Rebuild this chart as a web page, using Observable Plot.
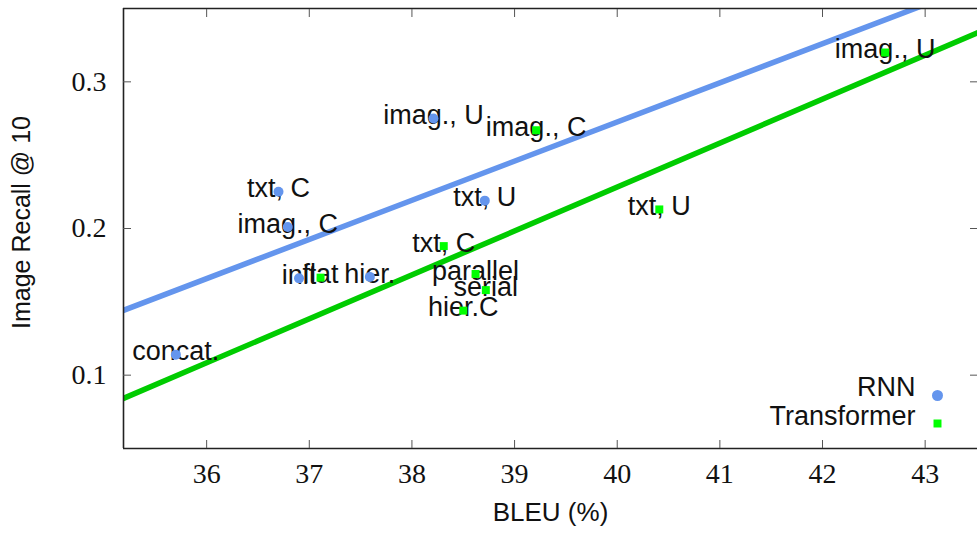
<!DOCTYPE html>
<html>
<head>
<meta charset="utf-8">
<script src="https://cdn.jsdelivr.net/npm/d3@7"></script>
<script src="https://cdn.jsdelivr.net/npm/@observablehq/plot@0.6"></script>
<style>
  html, body { margin: 0; padding: 0; background: #fff; }
</style>
</head>
<body>
<div id="chart"></div>
<script>
// ---- data ----
const rnnLabels = ["concat.", "txt, C", "imag., C", "init", "hier.", "imag., U", "txt, U"];
const rnnBleu   = [35.70, 36.70, 36.79, 36.90, 37.59, 38.21, 38.71];
const rnnRecall = [0.114, 0.225, 0.201, 0.166, 0.167, 0.275, 0.219];

const trfLabels = ["flat", "txt, C", "hier.C", "parallel", "serial", "imag., C", "txt, U", "imag., U"];
const trfBleu   = [37.11, 38.31, 38.50, 38.62, 38.72, 39.21, 40.41, 42.61];
const trfRecall = [0.1665, 0.188, 0.144, 0.169, 0.158, 0.267, 0.213, 0.320];

// fitted trend lines: recall = intercept + slope * bleu
const rnnFit = { intercept: -0.7950, slope: 0.02669 };
const trfFit = { intercept: -0.9701, slope: 0.02996 };

const seriesNames = ["RNN", "Transformer"];
const xTicks = [36, 37, 38, 39, 40, 41, 42, 43];
const yTicks = [0.1, 0.2, 0.3];
const xDomain = [35.19, 43.51];
const yDomain = [0.05, 0.35];
const xLabel = "BLEU (%)";
const yLabel = "Image Recall @ 10";

// ---- build tables ----
const rnnRows = rnnLabels.map((t, i) => ({ label: t, x: rnnBleu[i], y: rnnRecall[i] }));
const trfRows = trfLabels.map((t, i) => ({ label: t, x: trfBleu[i], y: trfRecall[i] }));
const fitRows = f => xDomain.map(x => ({ x, y: f.intercept + f.slope * x }));

const BLUE = "#6495ed";
const GREEN_LINE = "#00cc00";
const GREEN_PT = "#00ff00";
const SANS = "'Liberation Sans', Arial, sans-serif";
const SERIF = "'Liberation Serif', 'DejaVu Serif', serif";
const FRAME = "#222";
const TICK = "#555";

const chart = Plot.plot({
  width: 977,
  height: 536,
  marginLeft: 123,
  marginRight: 0,
  marginTop: 8,
  marginBottom: 88,
  style: { background: "#fff", overflow: "visible" },
  x: { domain: xDomain },
  y: { domain: yDomain },
  marks: [
    // trend lines
    Plot.line(fitRows(rnnFit), { x: "x", y: "y", stroke: BLUE, strokeWidth: 5.5, clip: true }),
    Plot.line(fitRows(trfFit), { x: "x", y: "y", stroke: GREEN_LINE, strokeWidth: 5.5, clip: true }),

    // point labels
    Plot.text(rnnRows, { x: "x", y: "y", text: "label", fontFamily: SANS, fontSize: 27, fill: "#111", dy: -3 }),
    Plot.text(trfRows, { x: "x", y: "y", text: "label", fontFamily: SANS, fontSize: 27, fill: "#111", dy: -3 }),

    // points
    Plot.dot(rnnRows, { x: "x", y: "y", r: 5, fill: BLUE, symbol: "circle" }),
    Plot.dot(trfRows, { x: "x", y: "y", r: 4.5, fill: GREEN_PT, symbol: "square" }),

    // frame (left, bottom, top)
    Plot.ruleX([xDomain[0]], { stroke: FRAME, strokeWidth: 1.6 }),
    Plot.ruleY([yDomain[0]], { stroke: FRAME, strokeWidth: 1.6 }),
    Plot.ruleY([yDomain[1]], { stroke: FRAME, strokeWidth: 1.6 }),

    // tick labels
    Plot.axisX(xTicks, { anchor: "bottom", tickSize: 0, tickPadding: 15, fontSize: 28, fontFamily: SERIF, fill: "#111", label: null }),
    Plot.axisY(yTicks, { anchor: "left", tickSize: 0, tickPadding: 17, fontSize: 28, fontFamily: SERIF, fill: "#111", label: null, tickFormat: d => d.toFixed(1) }),

    // inward tick marks on all four sides
    Plot.axisX(xTicks, { anchor: "bottom", tickSize: 8, dy: -8, stroke: TICK, tickFormat: () => "", label: null }),
    Plot.axisX(xTicks, { anchor: "top", tickSize: 8, dy: 8, stroke: TICK, tickFormat: () => "", label: null }),
    Plot.axisY(yTicks, { anchor: "left", tickSize: 8, dx: 8, stroke: TICK, tickFormat: () => "", label: null }),
    Plot.axisY(yTicks, { anchor: "right", tickSize: 8, dx: -8, stroke: TICK, tickFormat: () => "", label: null }),

    // axis titles
    Plot.text([xLabel], { frameAnchor: "bottom", text: d => d, dy: 72, textAnchor: "middle", fontFamily: SANS, fontSize: 26, fill: "#111" }),
    Plot.text([yLabel], { frameAnchor: "left", text: d => d, dx: -102, dy: -6, rotate: -90, textAnchor: "middle", fontFamily: SANS, fontSize: 25, fill: "#111" }),

    // legend
    Plot.text([seriesNames[0]], { frameAnchor: "bottom-right", text: d => d, dx: -62, dy: -53, textAnchor: "end", fontFamily: SANS, fontSize: 27, fill: "#111" }),
    Plot.text([seriesNames[1]], { frameAnchor: "bottom-right", text: d => d, dx: -62, dy: -24, textAnchor: "end", fontFamily: SANS, fontSize: 27, fill: "#111" }),
    Plot.dot([seriesNames[0]], { frameAnchor: "bottom-right", dx: -40, dy: -53, r: 5.5, fill: BLUE }),
    Plot.dot([seriesNames[1]], { frameAnchor: "bottom-right", dx: -40, dy: -25, r: 4.5, symbol: "square", fill: GREEN_PT })
  ]
});

document.getElementById("chart").appendChild(chart);
</script>
</body>
</html>
